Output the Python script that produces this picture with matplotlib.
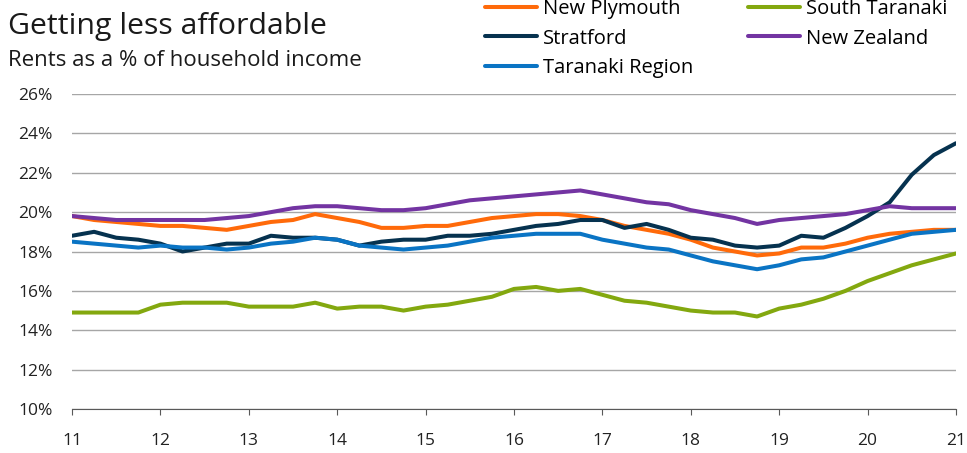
import matplotlib.pyplot as plt
import numpy as np

# quarterly observations, 2011 to 2021
quarters = np.arange(11, 21.01, 0.25)

new_plymouth = [19.8, 19.6, 19.5, 19.4, 19.3, 19.3, 19.2, 19.1, 19.3, 19.5,
                19.6, 19.9, 19.7, 19.5, 19.2, 19.2, 19.3, 19.3, 19.5, 19.7,
                19.8, 19.9, 19.9, 19.8, 19.6, 19.3, 19.1, 18.9, 18.6, 18.2,
                18.0, 17.8, 17.9, 18.2, 18.2, 18.4, 18.7, 18.9, 19.0, 19.1,
                19.1]
stratford = [18.8, 19.0, 18.7, 18.6, 18.4, 18.0, 18.2, 18.4, 18.4, 18.8,
             18.7, 18.7, 18.6, 18.3, 18.5, 18.6, 18.6, 18.8, 18.8, 18.9,
             19.1, 19.3, 19.4, 19.6, 19.6, 19.2, 19.4, 19.1, 18.7, 18.6,
             18.3, 18.2, 18.3, 18.8, 18.7, 19.2, 19.8, 20.5, 21.9, 22.9,
             23.5]
taranaki_region = [18.5, 18.4, 18.3, 18.2, 18.3, 18.2, 18.2, 18.1, 18.2, 18.4,
                   18.5, 18.7, 18.6, 18.3, 18.2, 18.1, 18.2, 18.3, 18.5, 18.7,
                   18.8, 18.9, 18.9, 18.9, 18.6, 18.4, 18.2, 18.1, 17.8, 17.5,
                   17.3, 17.1, 17.3, 17.6, 17.7, 18.0, 18.3, 18.6, 18.9, 19.0,
                   19.1]
south_taranaki = [14.9, 14.9, 14.9, 14.9, 15.3, 15.4, 15.4, 15.4, 15.2, 15.2,
                  15.2, 15.4, 15.1, 15.2, 15.2, 15.0, 15.2, 15.3, 15.5, 15.7,
                  16.1, 16.2, 16.0, 16.1, 15.8, 15.5, 15.4, 15.2, 15.0, 14.9,
                  14.9, 14.7, 15.1, 15.3, 15.6, 16.0, 16.5, 16.9, 17.3, 17.6,
                  17.9]
new_zealand = [19.8, 19.7, 19.6, 19.6, 19.6, 19.6, 19.6, 19.7, 19.8, 20.0,
               20.2, 20.3, 20.3, 20.2, 20.1, 20.1, 20.2, 20.4, 20.6, 20.7,
               20.8, 20.9, 21.0, 21.1, 20.9, 20.7, 20.5, 20.4, 20.1, 19.9,
               19.7, 19.4, 19.6, 19.7, 19.8, 19.9, 20.1, 20.3, 20.2, 20.2,
               20.2]

series = [
    ("New Plymouth", new_plymouth, "#FF6A0A"),
    ("Stratford", stratford, "#06324F"),
    ("Taranaki Region", taranaki_region, "#0A74C4"),
    ("South Taranaki", south_taranaki, "#83A80F"),
    ("New Zealand", new_zealand, "#7334A2"),
]

plt.rcParams['font.family'] = ['Open Sans', 'DejaVu Sans']

fig = plt.figure(figsize=(9.67, 4.53), dpi=100)
ax = fig.add_axes([0.0745, 0.0971, 0.9141, 0.6954])

for name, vals, col in series:
    ax.plot(quarters, vals, color=col, lw=2.9, label=name,
            solid_capstyle='round', solid_joinstyle='round')

ax.set_xlim(11, 21)
ax.set_ylim(10, 26)
ax.set_xticks(range(11, 22))
ax.set_yticks(range(10, 27, 2))
ax.set_yticklabels([f"{v}%" for v in range(10, 27, 2)])
ax.grid(axis='y', color='#A6A6A6', lw=1)
ax.set_axisbelow(True)
for s in ('top', 'right', 'left'):
    ax.spines[s].set_visible(False)
ax.spines['bottom'].set_color('#595959')
ax.tick_params(axis='y', length=0, pad=14, labelsize=12.5, labelcolor='#222222')
ax.tick_params(axis='x', length=4.5, color='#595959', pad=12.5,
               labelsize=12.5, labelcolor='#222222')

fig.text(0.008, 0.925, "Getting less affordable", fontsize=21.8, color='#1a1a1a')
fig.text(0.008, 0.855, "Rents as a % of household income", fontsize=16,
         color='#1a1a1a')

fig.legend(loc='upper left', bbox_to_anchor=(0.493, 1.019), ncol=2,
           frameon=False, fontsize=14.5, handlelength=2.6, handletextpad=0.3,
           columnspacing=2.7, labelspacing=0.45, borderaxespad=0)

fig.savefig("out.png", dpi=100)
